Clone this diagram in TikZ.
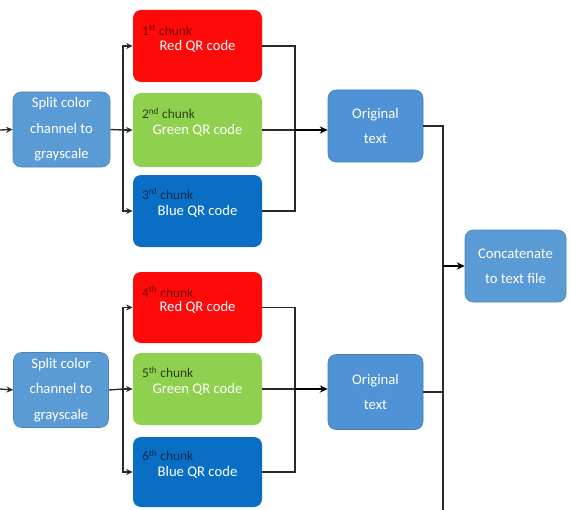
\documentclass[tikz,border=0pt]{standalone}
\usepackage{fontspec}
\setmainfont{Carlito}
\usetikzlibrary{arrows.meta}
\definecolor{qrred}{HTML}{FF0A0A}
\definecolor{qrgreen}{HTML}{8FD14F}
\definecolor{qrblue}{HTML}{0A6FC4}
\definecolor{procblue}{HTML}{5B9BD5}
\definecolor{origblue}{HTML}{4F92D6}
\definecolor{wire}{HTML}{2A2A2A}
\begin{document}
\begin{tikzpicture}[x=0.75pt,y=-0.75pt,
  box/.style={rounded corners=6pt, inner sep=0pt, align=center, text=white,
    font=\fontsize{11}{19}\selectfont},
  chunkbox/.style={box, minimum width=96.75pt, minimum height=54pt},
  proc/.style={box, fill=procblue, draw=procblue!85!black, line width=0.4pt},
  chunk/.style={anchor=west, inner sep=0pt, font=\fontsize{10}{12}\selectfont},
  link/.style={draw=wire, line width=1pt},
  arr/.style={link, -{Stealth[length=5pt,width=4.5pt]}},
  bigarr/.style={draw=black, line width=1.8pt, -{Stealth[length=6pt,width=5.5pt]}}]
\useasboundingbox (0,0) rectangle (571,510);

% ---------- first image: three colour channels ----------
\coordinate (in1) at (0,130);
\node[proc, minimum width=72.75pt, minimum height=56.25pt] (S1) at (61.5,129.5)
  {Split color\\channel to\\grayscale};
\node[chunkbox, fill=qrred]   (R1) at (197.5,46)  {\raisebox{-3pt}{Red QR code}};
\node[chunkbox, fill=qrgreen, minimum height=55.5pt] (G1) at (197.5,130) {Green QR code};
\node[chunkbox, fill=qrblue]  (B1) at (197.5,211) {Blue QR code};
\node[chunk, text=qrred!45!black]   (R1c) at ([xshift=6.75pt,yshift=12pt]R1.west) {1\textsuperscript{st} chunk};
\node[chunk, text=qrgreen!30!black] (G1c) at ([xshift=6.75pt,yshift=12.5pt]G1.west) {2\textsuperscript{nd} chunk};
\node[chunk, text=qrblue!40!black]  (B1c) at ([xshift=6.75pt,yshift=13pt]B1.west) {3\textsuperscript{rd} chunk};
\node[proc, fill=origblue, draw=origblue!85!black, minimum width=71.25pt, minimum height=54pt] (O1) at (375.5,126)
  {Original\\text};

\coordinate (b1) at (123,130);
\coordinate (m1) at (295,130);
\draw[arr] (in1) -- (S1.west);
\draw[link] (S1.east) -- (b1);
\draw[arr] (b1) |- (R1.west);
\draw[arr] (b1) -- (G1.west);
\draw[arr] (b1) |- (B1.west);
\draw[link] (R1.east) -| (m1);
\draw[link] (B1.east) -| (m1);
\draw[link] (G1.east) -- (m1);
\draw[bigarr] (m1) -- (m1 -| O1.west);

% ---------- second image: three colour channels ----------
\coordinate (in2) at (0,389);
\node[proc, minimum width=71.25pt, minimum height=56.25pt] (S2) at (61,390)
  {Split color\\channel to\\grayscale};
\node[chunkbox, fill=qrred, minimum height=53.25pt]   (R2) at (197.5,307.5) {\raisebox{-3pt}{Red QR code}};
\node[chunkbox, fill=qrgreen] (G2) at (197.5,389) {Green QR code};
\node[chunkbox, fill=qrblue, minimum height=52.5pt]  (B2) at (197.5,472) {Blue QR code};
\node[chunk, text=qrred!45!black]   (R2c) at ([xshift=6.75pt,yshift=12pt]R2.west) {4\textsuperscript{th} chunk};
\node[chunk, text=qrgreen!30!black] (G2c) at ([xshift=6.75pt,yshift=12.5pt]G2.west) {5\textsuperscript{th} chunk};
\node[chunk, text=qrblue!40!black]  (B2c) at ([xshift=6.75pt,yshift=12.5pt]B2.west) {6\textsuperscript{th} chunk};
\node[proc, fill=origblue, draw=origblue!85!black, minimum width=71.25pt, minimum height=56.25pt] (O2) at (375.5,392)
  {Original\\text};

\coordinate (b2) at (123,389);
\coordinate (m2) at (295,389);
\draw[arr] (in2) -- (S2.west);
\draw[link] (S2.east) -- (b2);
\draw[arr] (b2) |- (R2.west);
\draw[arr] (b2) -- (G2.west);
\draw[arr] (b2) |- (B2.west);
\draw[link] (R2.east) -| (m2);
\draw[link] (B2.east) -| (m2);
\draw[link] (G2.east) -- (m2);
\draw[bigarr] (m2) -- (m2 -| O2.west);

% ---------- joining all recovered texts ----------
\node[proc, minimum width=75.75pt, minimum height=54pt] (C) at (515.5,266)
  {Concatenate\\to text file};
\coordinate (vtop) at (443,126);
\coordinate (vbot) at (443,510);
\draw[link] (O1.east) -- (vtop) -- (vbot);
\draw[link] (O2.east) -- (O2.east -| vbot);
\draw[bigarr] (C.west -| vbot) -- (C.west);
\end{tikzpicture}
\end{document}
